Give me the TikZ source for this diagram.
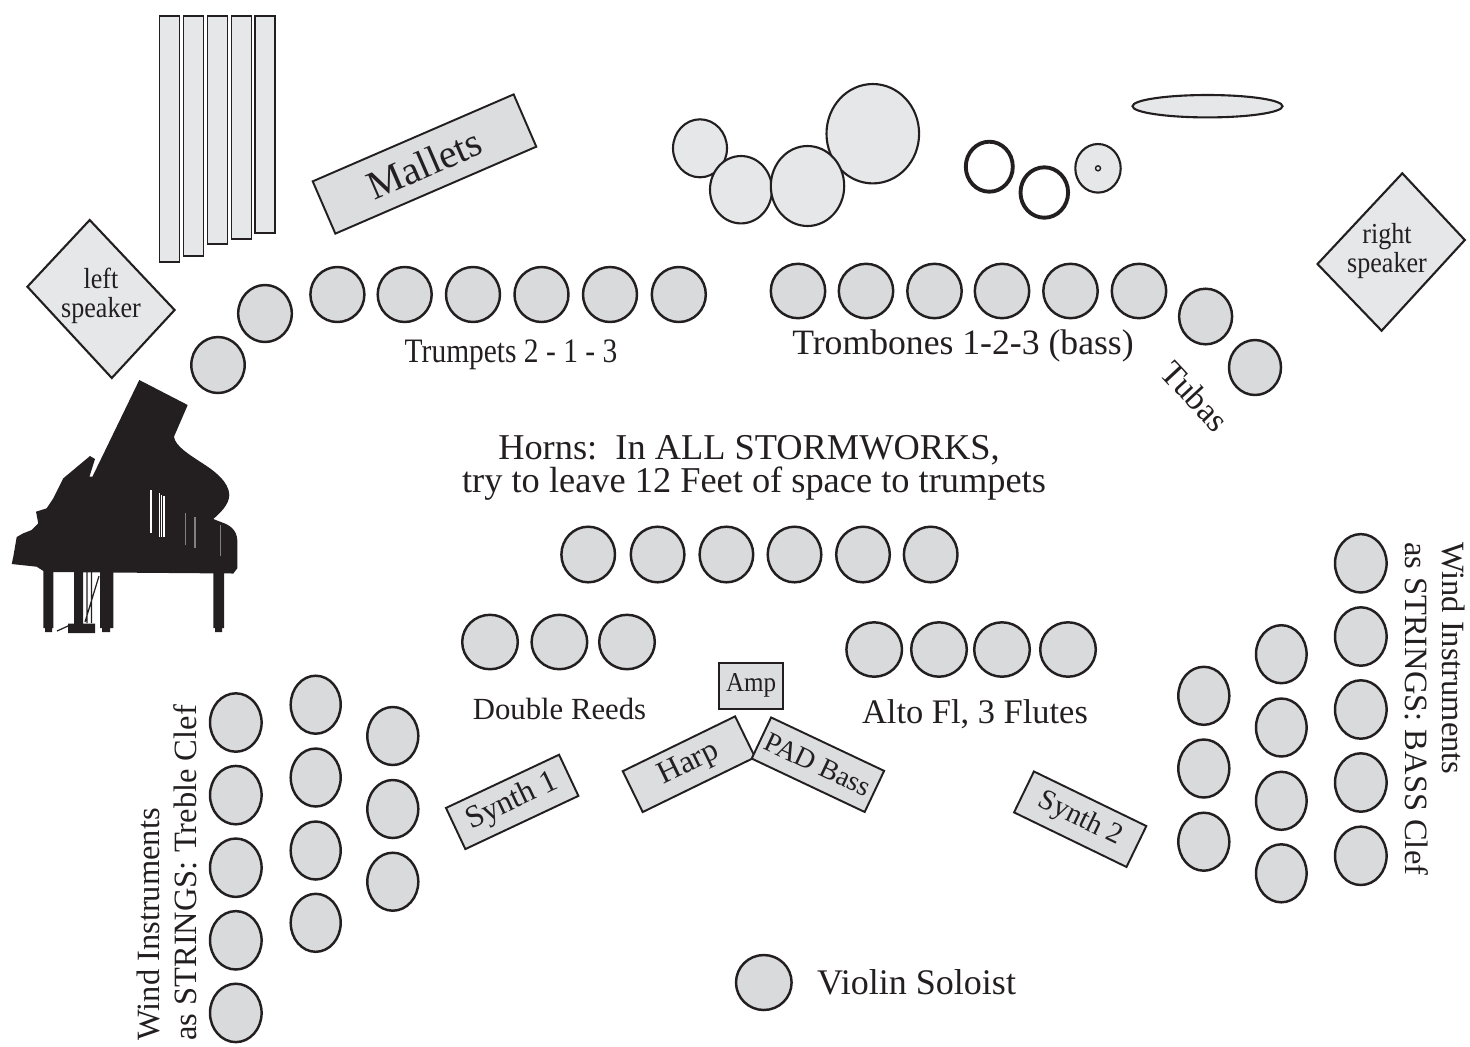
\documentclass[tikz,border=0pt]{standalone}
\usepackage{fontspec}
\setmainfont{Liberation Serif}
\usepackage{tikz}

\definecolor{ink}{RGB}{35,31,32}
\definecolor{seatgray}{RGB}{217,218,220}
\definecolor{palegray}{RGB}{230,231,232}
\definecolor{boxgray}{RGB}{220,221,223}
\newcommand{\fsz}[1]{\fontsize{#1}{#1}\selectfont}

\tikzset{
	seat/.style={draw=ink, fill=seatgray, line width=1.4pt},
	perc/.style={draw=ink, fill=palegray, line width=1.2pt},
	ring/.style={draw=ink, line width=2.2pt},
	chime/.style={draw=ink, fill=palegray, line width=1pt},
	gear/.style={draw=ink, fill=boxgray, line width=1.1pt, rectangle, inner sep=0pt,
		minimum width=2.5cm, minimum height=0.91cm, text=ink},
	lbl/.style={inner sep=0pt, text=ink},
}

\begin{document}
\begin{tikzpicture}[x=0.02cm, y=-0.02cm]

	\useasboundingbox (0,0) rectangle (1470,1046);

	\foreach \x/\b in {159.5/262, 183.5/256, 207.5/244, 231.5/239, 255/233}
		\draw[chime] (\x,16) rectangle (\x+20,\b);

	\node[gear, minimum width=4.38cm, minimum height=1.14cm, rotate=23.4, font=\fsz{22.8}] (mallets) at (424.5,164) {Mallets};

	\draw[perc] (700,148.3) ellipse [x radius=27, y radius=29];
	\draw[perc] (741,189.7) ellipse [x radius=31, y radius=33.7];
	\draw[perc] (872.8,133.7) ellipse [x radius=46.3, y radius=49.7];
	\draw[perc] (807.5,186) ellipse [x radius=36.7, y radius=40];
	\draw[ring] (989.3,166.7) ellipse [x radius=23.5, y radius=25];
	\draw[ring] (1044.3,192.5) ellipse [x radius=23.8, y radius=25.2];
	\draw[perc] (1098,168.3) ellipse [x radius=22.7, y radius=24.3];
	\draw[ink, line width=0.8pt] (1098,168.3) circle [radius=2.5];
	\draw[perc] (1207.5,106.2) ellipse [x radius=75, y radius=11.2];

	\coordinate (ls-n) at (89.7,220);
	\coordinate (ls-e) at (174.6,310);
	\coordinate (ls-s) at (111.8,378);
	\coordinate (ls-w) at (27.4,286.7);
	\draw[perc] (ls-n) -- (ls-e) -- (ls-s) -- (ls-w) -- cycle;
	\node[lbl, align=center, xscale=0.9, font=\fontsize{16.5}{16.5}\selectfont] (lspeaker) at (101,296) {left\\speaker};

	\coordinate (rs-n) at (1402.3,173.3);
	\coordinate (rs-e) at (1464.8,240);
	\coordinate (rs-s) at (1381.6,330.7);
	\coordinate (rs-w) at (1317.5,264);
	\draw[perc] (rs-n) -- (rs-e) -- (rs-s) -- (rs-w) -- cycle;
	\node[lbl, align=center, xscale=0.9, font=\fontsize{16.5}{16.5}\selectfont] (rspeaker) at (1387,251) {right\\speaker};

	\foreach \x in {337.4,404.7,473,541.5,610,678.8}
		\draw[seat] (\x,294.5) ellipse [x radius=27, y radius=27.5];
	\draw[seat] (265,313.5) ellipse [x radius=26.8, y radius=28.5];
	\draw[seat] (218,365) ellipse [x radius=26.7, y radius=28];
	\node[lbl, anchor=base, xscale=0.86, font=\fsz{19.5}] (trumpets) at (511,362) {Trumpets 2 - 1 - 3};

	\foreach \x in {798,866,934.5,1002,1070.5,1139}
		\draw[seat] (\x,291) ellipse [x radius=27.2, y radius=27.2];
	\draw[seat] (1205.6,316.5) ellipse [x radius=26.5, y radius=27.8];
	\draw[seat] (1255,367.5) ellipse [x radius=26, y radius=27.5];
	\node[lbl, anchor=base, font=\fsz{20.3}] (trombones) at (963,354) {Trombones 1-2-3 (bass)};
	\node[lbl, rotate=-47, font=\fsz{19.3}] (tubas) at (1195,396) {Tubas};

	\node[lbl, anchor=base, font=\fsz{20.7}] (hornsA) at (749,459) {Horns:\ \ In ALL STORMWORKS,};
	\node[lbl, anchor=base, font=\fsz{20.7}] (hornsB) at (754,492) {try to leave 12 Feet of space to trumpets};
	\foreach \x in {588.2,657.6,726.4,794.5,863,930.7}
		\draw[seat] (\x,554.5) ellipse [x radius=26.8, y radius=27.8];

	\foreach \x in {490,559.4,627}
		\draw[seat] (\x,642) ellipse [x radius=27.8, y radius=27.2];
	\node[lbl, anchor=base, font=\fsz{17.5}] (reeds) at (559.5,719) {Double Reeds};
	\foreach \x in {874.2,939,1002,1068}
		\draw[seat] (\x,649.5) ellipse [x radius=27.8, y radius=27.2];
	\node[lbl, anchor=base, font=\fsz{19.6}] (flutes) at (975,723.3) {Alto Fl, 3 Flutes};

	\node[gear, minimum width=1.4cm, minimum height=0.93cm, xscale=0.92, font=\fsz{15.5}] (amp) at (751.2,685.8) {Amp};
	\node[gear, rotate=25.2, font=\fsz{18}] (synthA) at (512.2,801.9) {Synth 1};
	\node[gear, rotate=26, font=\fsz{18}] (harp) at (688.9,764.2) {Harp};
	\node[gear, rotate=-25.3, font=\fsz{16}] (padbass) at (817.9,764.7) {PAD Bass};
	\node[gear, rotate=-25.9, font=\fsz{16.5}] (synthB) at (1080.2,819.2) {Synth 2};

	\foreach \y in {722.5,795.1,867.7,940.3,1012.9}
		\draw[seat] (235.8,\y) ellipse [x radius=25.8, y radius=29.2];
	\foreach \y in {704.7,777.5,850.5,922.8}
		\draw[seat] (315.7,\y) ellipse [x radius=25, y radius=29];
	\foreach \y in {736,809,881.7}
		\draw[seat] (392.8,\y) ellipse [x radius=25.5, y radius=29];
	\node[lbl, rotate=90, anchor=north west, align=left, font=\fontsize{18.5}{21}\selectfont] (trebletext) at (136.5,1041) {Wind Instruments\\as STRINGS: Treble Clef};

	\foreach \y in {695.8,768.5,841.7}
		\draw[seat] (1203.8,\y) ellipse [x radius=25.5, y radius=29];
	\foreach \y in {654.2,727.5,800.8,873.3}
		\draw[seat] (1281.3,\y) ellipse [x radius=25.3, y radius=29];
	\foreach \y in {563.3,636.5,709.5,782.5,855.8}
		\draw[seat] (1360.8,\y) ellipse [x radius=25.8, y radius=29.2];
	\node[lbl, rotate=-90, anchor=north west, align=left, font=\fontsize{18.5}{21}\selectfont] (basstext) at (1465.5,541.7) {Wind Instruments\\as STRINGS: BASS Clef};

	\draw[seat] (763.8,982.5) ellipse [x radius=27.8, y radius=27.5];
	\node[lbl, anchor=base west, font=\fsz{20.5}] (violin) at (816.7,994) {Violin Soloist};

	\fill[ink] (139.3,380) -- (187.7,405) -- (174,436.7) .. controls (175,446) and (190,455) .. (200,461.7)
		.. controls (215,471) and (229,482) .. (229.3,495) .. controls (229,505) and (220,513) .. (213.3,519)
		-- (221.7,522.3) .. controls (230,525) and (236.7,530) .. (237.3,540) -- (237.3,568.3) -- (233.3,573.5)
		-- (45,572) -- (36.7,566.7) -- (11.7,564) -- (13.3,556.7) -- (16.7,537) -- (23.3,533.3) -- (31.7,530)
		-- (38.3,523.3) -- (36,511.7) -- (46.7,508.3) -- (53.3,498.3) -- (63.3,478.3) -- (90,456) -- (95,459)
		-- (89.5,476.5) -- (92.5,476.5) -- cycle;
	\fill[ink] (43.3,571) rectangle (53.3,628) (45,627) rectangle (52,632);
	\fill[ink] (100,571) rectangle (113.3,628) (102,627) rectangle (110,632);
	\fill[ink] (213.3,573) rectangle (224,628) (215,627) rectangle (222,632);
	\fill[ink] (74,571) rectangle (83,625) (68,623.5) rectangle (95,633);
	\draw[ink, line width=0.7pt] (87,572) -- (87,623) (91.5,572) -- (91.5,623) (85,622) -- (99,576) (57,631) -- (68,626);
	\draw[white, line width=0.9pt] (151,490) -- (151,533) (159.3,493) -- (159.3,536.7) (161.7,495) -- (161.7,537) (164,496) -- (164,537);
	\draw[gray, line width=0.6pt] (185.3,513) -- (185.3,545) (195,517) -- (195,548) (220.7,525) -- (220.7,556);

\end{tikzpicture}
\end{document}
